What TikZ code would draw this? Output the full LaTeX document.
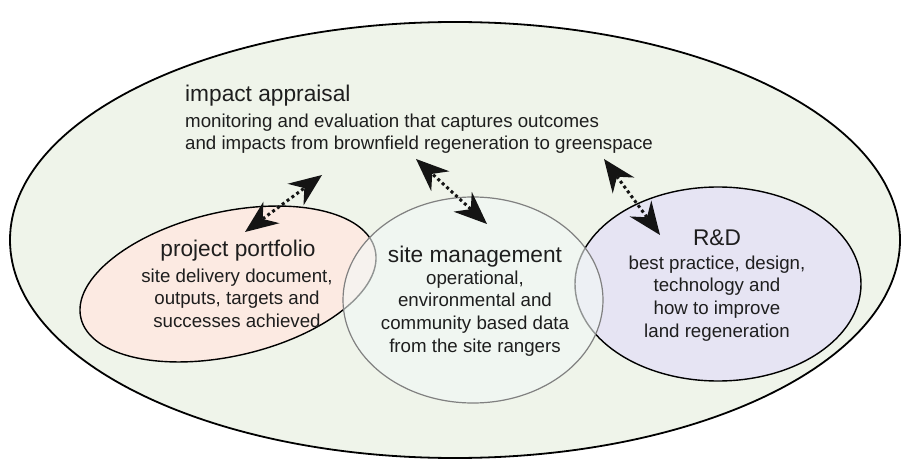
\documentclass[tikz,border=0pt]{standalone}
\usepackage{fontspec}
\setmainfont{Liberation Sans}
\usetikzlibrary{shapes.geometric,calc}
\definecolor{outerfill}{RGB}{239,244,234}
\definecolor{ppfill}{RGB}{252,234,226}
\definecolor{smfill}{RGB}{242,248,246}
\definecolor{rdfill}{RGB}{230,228,243}
\definecolor{smline}{RGB}{128,128,128}
\definecolor{txt}{RGB}{30,30,30}
\definecolor{arr}{RGB}{20,20,20}
\newcommand\tiphead[2]{% #1 = other end, #2 = tip point
  \fill[arr] (#2) -- ($(#2)!33pt!(#1)!13.5pt!90:(#2)$) -- ($(#2)!22pt!(#1)$) -- ($(#2)!33pt!(#1)!13.5pt!-90:(#2)$) -- cycle;}
\begin{document}
\begin{tikzpicture}[x=1pt,y=-1pt,
  blob/.style={ellipse, inner sep=0pt, outer sep=0pt},
  titletext/.style={font=\fontsize{22.7}{27}\selectfont, text=txt, inner sep=0pt},
  bodytext/.style={font=\fontsize{18.7}{22.7}\selectfont, text=txt, inner sep=0pt, align=center},
  dotshaft/.style={line width=3pt, dash pattern=on 3pt off 3pt, color=arr, shorten <=22pt, shorten >=22pt}
]
\useasboundingbox (0,0) rectangle (904,462);
\fill[white] (0,0) rectangle (904,462);

\node[blob, draw=black, line width=1.8pt, fill=outerfill, minimum width=890pt, minimum height=436pt] (outer) at (455,240) {};
\node[blob, draw=black, line width=1.4pt, fill=ppfill, minimum width=302pt, minimum height=144pt, rotate=13] (pp) at (228,284) {};
\node[blob, draw=black, line width=1.4pt, fill=rdfill, minimum width=286pt, minimum height=194pt] (rd) at (718,284) {};
\node[blob, draw=smline, line width=1.2pt, fill=smfill, fill opacity=0.6, minimum width=260pt, minimum height=206pt] (sm) at (473,300) {};

\node[titletext, anchor=base west] (iat) at (185,102) {impact appraisal};
\node[bodytext, align=left, anchor=north west] (iab) at (185,113.4) {monitoring and evaluation that captures outcomes\\and impacts from brownfield regeneration to greenspace};

\node[titletext, anchor=base] (ppt) at (238,257) {project portfolio};
\node[bodytext, anchor=north] (ppb) at (237,268.4) {site delivery document,\\outputs, targets and\\successes achieved};

\node[titletext, anchor=base] (smt) at (475,262) {site management};
\node[bodytext, anchor=north] (smb) at (475,270.4) {operational,\\environmental and\\community based data\\from the site rangers};

\node[titletext, anchor=base] (rdt) at (717,245) {R\&D};
\node[bodytext, anchor=north] (rdb) at (717,255.4) {best practice, design,\\technology and\\how to improve\\land regeneration};

\coordinate (a1s) at (245,232);
\coordinate (a1e) at (322,175);
\coordinate (a2s) at (487,224);
\coordinate (a2e) at (416,159);
\coordinate (a3s) at (660,235);
\coordinate (a3e) at (604,159);

\draw[dotshaft] (a1s) -- (a1e);
\draw[dotshaft] (a2s) -- (a2e);
\draw[dotshaft] (a3s) -- (a3e);
\tiphead{a1s}{a1e}\tiphead{a1e}{a1s}
\tiphead{a2s}{a2e}\tiphead{a2e}{a2s}
\tiphead{a3s}{a3e}\tiphead{a3e}{a3s}
\end{tikzpicture}
\end{document}
